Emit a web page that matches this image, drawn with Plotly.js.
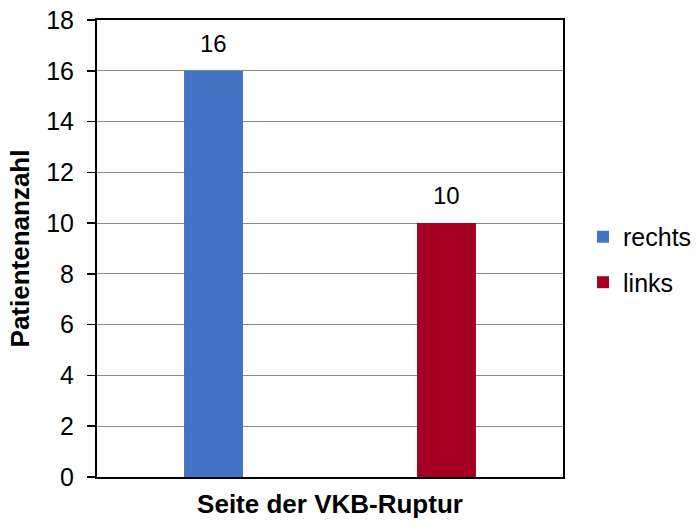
<!DOCTYPE html>
<html><head><meta charset="utf-8">
<script src="https://cdn.plot.ly/plotly-3.0.1.min.js"></script>
<style>html,body{margin:0;padding:0;background:#fff}</style>
</head><body>
<div id="chart" style="width:698px;height:526px"></div>
<script>
const categories = ["rechts", "links"];
const seriesNames = ["rechts", "links"];
const values = [16, 10];
const colors = ["#4472C4", "#A50021"];
const yTicks = [0, 2, 4, 6, 8, 10, 12, 14, 16, 18];

const FONT = "Liberation Sans, Arial, sans-serif";

const traces = seriesNames.map((name, i) => ({
  type: "bar",
  name: name,
  x: [categories[i]],
  y: [values[i]],
  width: 0.253,
  marker: {color: colors[i]},
  legendgroup: name,
  hoverinfo: "none"
}));

const annotations = seriesNames.map((name, i) => ({
  x: categories[i], y: values[i], xref: "x", yref: "y",
  text: String(values[i]), showarrow: false,
  yanchor: "bottom", yshift: 12,
  font: {family: FONT, size: 24, color: "#000"}
}));

const layout = {
  width: 698, height: 526,
  margin: {l: 97, r: 135, t: 20, b: 49, autoexpand: false},
  paper_bgcolor: "#fff", plot_bgcolor: "#fff",
  font: {family: FONT, size: 24, color: "#000"},
  barmode: "overlay",
  showlegend: true,
  legend: {
    x: 1.043, xanchor: "left", y: 0.476, yanchor: "middle",
    traceorder: "grouped", tracegroupgap: 10,
    font: {family: FONT, size: 25, color: "#000"},
    itemwidth: 30
  },
  xaxis: {
    type: "category", categoryarray: categories, categoryorder: "array",
    range: [-0.5, 1.5],
    showticklabels: false, ticks: "",
    showline: true, linecolor: "#000", linewidth: 2, mirror: true,
    showgrid: false, zeroline: false,
    title: {text: "<b>Seite der VKB-Ruptur</b>", font: {family: FONT, size: 26, color: "#000"}, standoff: 17}
  },
  yaxis: {
    range: [0, 18], tickvals: yTicks, ticktext: yTicks.map(String),
    ticks: "outside", ticklen: 8, tickcolor: "#000", tickwidth: 1.5,
    ticklabelstandoff: 8,
    showline: true, linecolor: "#000", linewidth: 2, mirror: true,
    showgrid: true, gridcolor: "#8a8a8a", gridwidth: 1,
    zeroline: false,
    tickfont: {family: FONT, size: 25, color: "#000"},
    title: {text: "<b>Patientenanzahl</b>", font: {family: FONT, size: 26, color: "#000"}, standoff: 9}
  },
  annotations: annotations
};

Plotly.newPlot("chart", traces, layout, {displayModeBar: false, staticPlot: true});
</script>
</body></html>
